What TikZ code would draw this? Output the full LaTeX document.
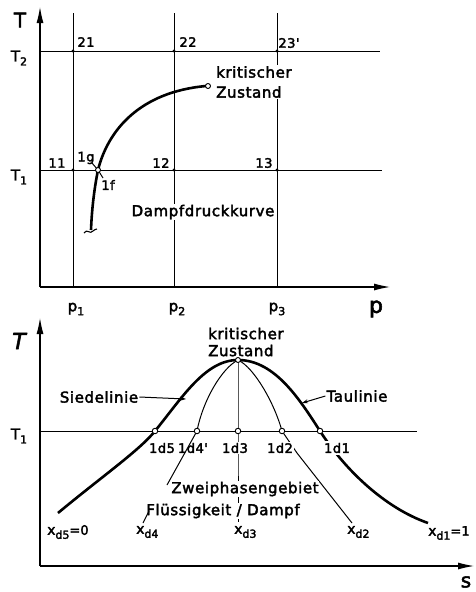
\documentclass[tikz,border=0pt]{standalone}
\usepackage{fontspec}
\setmainfont{DejaVu Sans}
\newfontfamily\lab[LetterSpace=4,FakeBold=2.5]{DejaVu Sans}
\newfontfamily\labn[FakeBold=2.5]{DejaVu Sans}
\usetikzlibrary{arrows.meta}
\newcommand\sbs[1]{\raisebox{-4pt}{\fontsize{11}{11}\selectfont #1}}
\begin{document}
\begin{tikzpicture}[x=1pt,y=-1pt,
  thinl/.style={line width=1pt},
  thickl/.style={line width=2.6pt},
  axis/.style={line width=1.1pt,-{Latex[length=16pt,width=7pt]}},
  pointer/.style={line width=1pt,-{Stealth[length=6pt,width=4pt]}},
  txt/.style={font=\lab\fontsize{15}{20}\selectfont, inner sep=1pt, fill=white},
  num/.style={font=\lab\fontsize{13}{15}\selectfont, inner sep=0.6pt, fill=white},
  xlab/.style={font=\labn\fontsize{14}{16}\selectfont, inner sep=0pt, anchor=west},
  big/.style={font=\lab\fontsize{20}{22}\selectfont, inner sep=0pt},
  opencirc/.style={circle, draw, line width=0.9pt, fill=white, inner sep=0pt, minimum size=5.5pt},
  dotn/.style={circle, fill, inner sep=0pt, minimum size=3.4pt},
]
\path[use as bounding box] (0,0) rectangle (475,592);

% ================= upper diagram: T over p =================
\coordinate (A0) at (40,287);
\coordinate (Atop) at (40,7);
\coordinate (Aright) at (390,287);
\coordinate (T2l) at (40,51);   \coordinate (T2r) at (380,51);
\coordinate (T1l) at (40,170);  \coordinate (T1r) at (382,170);
\coordinate (v1t) at (73,13);   \coordinate (v1b) at (73,287);
\coordinate (v2t) at (174,13);  \coordinate (v2b) at (174,287);
\coordinate (v3t) at (277,13);  \coordinate (v3b) at (277,287);

\draw[thinl] (T2l) -- (T2r);
\draw[thinl] (T1l) -- (T1r);
\draw[thinl] (v1t) -- (v1b);
\draw[thinl] (v2t) -- (v2b);
\draw[thinl] (v3t) -- (v3b);
\draw[axis] (A0) -- (Atop);
\draw[axis] (A0) -- (Aright);

% vapour pressure curve
\coordinate (cb) at (91,230);
\coordinate (c1) at (98,170);
\coordinate (ck) at (206,86);
\draw[thickl] (cb) .. controls (92,205) and (95,185) .. (c1)
              .. controls (108,130) and (140,92) .. (ck);
\draw[line width=1.1pt] (84,233) .. controls (87,228) and (90,235) .. (93,231)
              .. controls (94,230) and (96,229) .. (97,229);

% labels upper
\node[big] (Tup) at (20,20) {T};
\node[txt, inner sep=0pt] (T2lab) at (19,58) {T\sbs{2}};
\node[txt, inner sep=0pt] (T1lab) at (19,177) {T\sbs{1}};
\node[num] (l21) at (86,42) {21};
\node[num] (l22) at (188,42) {22};
\node[num] (l23) at (289,43) {23'};
\node[num] (l11) at (57,163) {11};
\node[num] (l12) at (161,163) {12};
\node[num] (l13) at (264,163) {13};
\node[num, fill=none] (l1g) at (86,158) {1g};
\node[num, fill=none] (l1f) at (108,185) {1f};
\node[txt, anchor=west, align=left] (kritA) at (215,82) {kritischer\\Zustand};
\node[txt] (dpk) at (203,212) {Dampfdruckkurve};
\node[txt, fill=none] (p1) at (76,309) {p\sbs{1}};
\node[txt, fill=none] (p2) at (177,309) {p\sbs{2}};
\node[txt, fill=none] (p3) at (277,309) {p\sbs{3}};
\node[big, font=\lab\fontsize{22}{24}\selectfont] (pax) at (376,309) {p};

\draw[thinl] (92,163) -- (c1);
\draw[thinl] (c1) -- (103,178);

\node[dotn] (g21) at (73,51) {};
\node[dotn] (g22) at (174,51) {};
\node[dotn] (g23) at (277,51) {};
\node[dotn] (g11) at (73,170) {};
\node[dotn] (g12) at (174,170) {};
\node[dotn] (g13) at (277,170) {};
\node[opencirc, minimum size=5pt] (p1g) at (c1) {};
\node[opencirc, minimum size=5pt] (pk) at (208,86) {};

% ================= lower diagram: T over s =================
\coordinate (B0) at (40,566);
\coordinate (Btop) at (40,318);
\coordinate (Bright) at (474,566);
\coordinate (BT1l) at (40,431);
\coordinate (BT1r) at (417,431);
\draw[thinl] (BT1l) -- (BT1r);
\draw[axis] (B0) -- (Btop);
\draw[axis] (B0) -- (Bright);

\coordinate (crit) at (238,360);
\coordinate (d5) at (155,431);
\coordinate (d4) at (197,431);
\coordinate (d3) at (238,431);
\coordinate (d2) at (282,431);
\coordinate (d1) at (320,431);
\coordinate (sL) at (58,513);
\coordinate (sR) at (428,523);

% thin lines of constant quality
\draw[thinl] (crit) .. controls (222,368) and (203,400) .. (d4);
\draw[thinl] (crit) -- (d3) -- (238,522);
\draw[thinl] (crit) .. controls (255,368) and (275,405) .. (d2) -- (297,453) -- (352,523);

% boiling and dew line
\draw[thickl] (sL) .. controls (100,478) and (140,450) .. (d5)
              .. controls (182,398) and (205,360) .. (crit)
              .. controls (275,360) and (300,400) .. (d1)
              .. controls (345,470) and (385,508) .. (sR);

% labels lower
\node[big, font=\lab\itshape\fontsize{22}{24}\selectfont] (Tlow) at (19,341) {T};
\node[txt, inner sep=0pt] (BT1lab) at (19,436) {T\sbs{1}};
\node[big] (sax) at (466,582) {s};
\node[txt, anchor=west, align=left, font=\lab\fontsize{15}{17}\selectfont] (kritB) at (207,342) {kritischer\\Zustand};
\node[txt] (siede) at (99,397) {Siedelinie};
\node[txt] (tau) at (357,396) {Taulinie};
\node[num] (l5) at (162,448) {1d5};
\node[num] (l4) at (193,448) {1d4'};
\node[num] (l3) at (235,448) {1d3};
\node[num] (l2) at (280,448) {1d2};
\node[num, inner sep=2pt] (l1) at (337,448) {1d1};
\node[txt, inner sep=0.5pt] (zwei) at (245,489) {Zweiphasengebiet};
\node[txt, inner sep=0.5pt] (fluess) at (223,511) {Flüssigkeit / Dampf};
\node[xlab] (xd5) at (47,532) {x\sbs{d5}{\fontsize{13}{13}\selectfont =0}};
\node[xlab] (xd4) at (136,532) {x\sbs{d4}};
\node[xlab] (xd3) at (234,532) {x\sbs{d3}};
\node[xlab] (xd2) at (347,532) {x\sbs{d2}};
\node[xlab] (xd1) at (428,533) {x\sbs{d1}{\fontsize{13}{13}\selectfont =1}};

\draw[thinl] (d4) -- (167,485);
\draw[thinl] (149,511) -- (143,523);
\draw[pointer] (siede.east) -- (186,399);
\draw[pointer] (tau.west) -- (302,403);

\node[opencirc, minimum size=5pt] (ck2) at (crit) {};
\node[opencirc] (c5) at (d5) {};
\node[opencirc] (c4) at (d4) {};
\node[opencirc] (c3) at (d3) {};
\node[opencirc] (c2) at (d2) {};
\node[opencirc] (c1b) at (d1) {};
\end{tikzpicture}
\end{document}
